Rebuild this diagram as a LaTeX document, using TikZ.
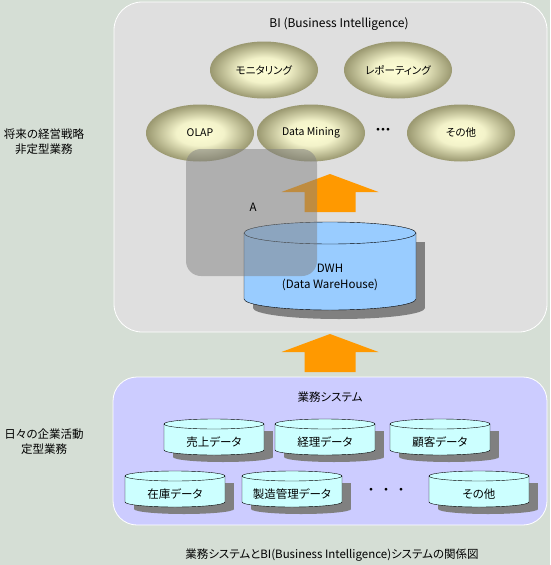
\documentclass[tikz,border=0pt]{standalone}
\usepackage{fontspec}
\setmainfont{Noto Sans CJK JP}[RawFeature=+palt]
\usetikzlibrary{shapes.geometric,positioning}
\definecolor{bgpaper}{HTML}{D5DED5}
\definecolor{bipanel}{HTML}{DFDFDF}
\definecolor{syspanel}{HTML}{CCCCFF}
\definecolor{dwhblue}{HTML}{99CCFF}
\definecolor{dbcyan}{HTML}{CCFFFF}
\definecolor{flow}{HTML}{FF9900}
\definecolor{drumshade}{HTML}{808080}
\definecolor{blobin}{HTML}{FFFFD6}
\definecolor{blobout}{HTML}{9A9870}
\pgfdeclareradialshading{blob}{\pgfpoint{0bp}{0bp}}{color(0bp)=(blobin); color(11bp)=(blobin!88!blobout); color(25bp)=(blobout); color(50bp)=(blobout)}
% drum sizes: half width, half height, end radius, shadow offset
\def\drumw{50}\def\drumh{18}\def\drumr{5}\def\drumsx{9}\def\drumsy{7}
% database drum: [fill]{name}{x}{y}{text}
\newcommand\drum[5][dbcyan]{%
    \fill[drumshade] (#3-\drumw+\drumsx,#4-\drumh+\drumr+\drumsy) rectangle (#3+\drumw+\drumsx,#4+\drumh-\drumr+\drumsy);
    \fill[drumshade] (#3+\drumsx,#4+\drumh-\drumr+\drumsy) ellipse (\drumw pt and \drumr pt);
    \draw[thin,fill=#1,shift={(#3,#4)}] (-\drumw,-\drumh+\drumr) -- (-\drumw,\drumh-\drumr)
        arc (180:360:\drumw pt and \drumr pt) -- (\drumw,-\drumh+\drumr) arc (0:180:\drumw pt and \drumr pt) -- cycle;
    \draw[thin,shift={(#3,#4)}] (-\drumw,-\drumh+\drumr) arc (180:360:\drumw pt and \drumr pt);
    \node[store] (#2) at (#3,#4+\drumr) {#5};
}
\tikzset{
    panel/.style={draw=white,line width=0.8pt,rounded corners=28pt},
    label font/.style={font=\fontsize{11.5}{13}\selectfont},
    tool/.style={ellipse,minimum width=108pt,minimum height=57pt,shading=blob,font=\fontsize{10.5}{12}\selectfont},
    store/.style={inner sep=0pt,align=center,label font},
    side/.style={align=center,font=\fontsize{11.5}{15}\selectfont},
}
\begin{document}
\begin{tikzpicture}[x=1pt,y=-1pt]
    \useasboundingbox[fill=bgpaper] (0,0) rectangle (550,565);
    % the two layers
    \draw[panel,fill=bipanel] (114,2) rectangle (547,332);
    \draw[panel,fill=syspanel,rounded corners=24pt] (113,377) rectangle (547,525);
    % block arrows
    \coordinate (up tip) at (330,174);
    \coordinate (low tip) at (330,334);
    \fill[flow] (up tip) -- ++(48.5,18) -- ++(-23,0) -- ++(0,20) -- ++(-51,0) -- ++(0,-20) -- ++(-23,0) -- cycle;
    \fill[flow] (low tip) -- ++(48.5,18) -- ++(-23,0) -- ++(0,20) -- ++(-51,0) -- ++(0,-20) -- ++(-23,0) -- cycle;
    % BI
    \node[font=\fontsize{12}{14}\selectfont] (bi title) at (339,24) {BI (Business Intelligence)};
    \node[tool] (monitor) at (264,70) {モニタリング};
    \node[tool] (report) at (398,70) {レポーティング};
    \node[tool] (olap) at (200,133) {OLAP};
    \node[tool] (mining) at (311,133) {Data Mining};
    \node[inner sep=0pt,font=\bfseries] (bi dots) at (383,131) {・・・};
    \node[tool] (bi misc) at (461,133) {その他};
    {\def\drumw{86}\def\drumh{44}\def\drumr{11}\def\drumsy{9}
    \drum[dwhblue]{dwh}{330}{266}{DWH\\[3pt](Data WareHouse)}}
    \fill[black!50,opacity=0.5,rounded corners=15pt] (186,149) rectangle (317,276);
    \node[label font] (a) at (253,207) {A};
    % operational systems
    \node[label font] (sys title) at (330,397) {業務システム};
    \drum{sales}{214}{437}{売上データ}
    \drum{account}{325}{437}{経理データ}
    \drum{customer}{440}{437}{顧客データ}
    \drum{stock}{175}{489}{在庫データ}
    \drum{production}{292}{489}{製造管理データ}
    \node[inner sep=0pt,font=\bfseries] (sys dots) at (386,491) {・\hspace{10pt}・\hspace{10pt}・};
    \drum{sys misc}{479}{489}{その他}
    % left side notes
    \node[side] (strategy) at (44,142) {将来の経営戦略\\非定型業務};
    \node[side] (daily) at (44,442) {日々の企業活動\\定型業務};
    \node[label font] (caption) at (332,555) {業務システムとBI(Business Intelligence)システムの関係図};
\end{tikzpicture}
\end{document}
